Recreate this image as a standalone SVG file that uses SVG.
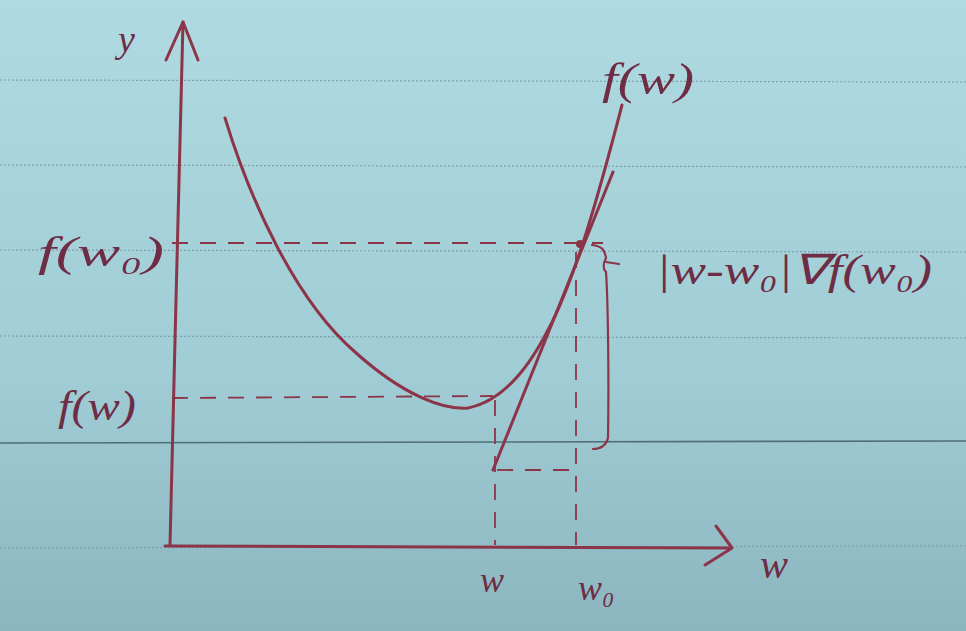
<svg xmlns="http://www.w3.org/2000/svg" width="966" height="631" viewBox="0 0 966 631">
<defs>
<linearGradient id="paper" x1="0" y1="0" x2="0" y2="1">
<stop offset="0" stop-color="#afdae1"/>
<stop offset="0.6" stop-color="#a0ccd5"/>
<stop offset="1" stop-color="#8cb6bf"/>
</linearGradient>
<style>
.rule{stroke:#7f9fa8;stroke-width:1.2;stroke-dasharray:2 2;fill:none}
.ruleSolid{stroke:#4f6f78;stroke-width:1.6;fill:none}
.ink{stroke:#8c3549;stroke-width:3;fill:none;stroke-linecap:round;stroke-linejoin:round}
.thin{stroke:#8c3549;stroke-width:2.2;fill:none;stroke-linecap:round}
.dash{stroke:#8c3549;stroke-width:1.8;fill:none;stroke-dasharray:16 12}
.lbl{font-family:"Liberation Serif",serif;font-style:italic;fill:#6e2c45}
</style>
</defs>
<rect width="966" height="631" fill="url(#paper)"/>
<g id="rules">
<line class="rule" x1="0" y1="80" x2="966" y2="82"/>
<line class="rule" x1="0" y1="165" x2="966" y2="167"/>
<line class="rule" x1="0" y1="250" x2="966" y2="252"/>
<line class="rule" x1="0" y1="336" x2="966" y2="338"/>
<line class="ruleSolid" x1="0" y1="443" x2="966" y2="441"/>
<line class="rule" x1="0" y1="548" x2="966" y2="546"/>
</g>
<g id="connectors">
<path class="dash" d="M172 243 L603 243"/>
<path class="dash" d="M172 398 L493 396"/>
<path class="dash" d="M495 400 L495 545"/>
<path class="dash" d="M576 252 L576 545"/>
<path class="dash" d="M497 470 L576 470"/>
</g>
<g id="y-axis">
<path class="ink" d="M170 545 L176 300 L183 22"/>
<path class="ink" d="M166 60 L183 22 L198 60"/>
<text class="lbl" x="118" y="52" font-size="38">y</text>
</g>
<g id="x-axis">
<path class="ink" d="M165 546 L730 548"/>
<path class="ink" d="M716 526 L732 548 L705 565"/>
<text class="lbl" x="760" y="578" font-size="42">w</text>
</g>
<g id="curve">
<path class="ink" d="M225 118 C250 200 295 300 355 352 C405 397 445 410 468 408 C498 402 525 375 548 330 C575 280 600 190 622 105"/>
<text class="lbl" x="602" y="94" font-size="44" textLength="92" lengthAdjust="spacingAndGlyphs">f(w)</text>
</g>
<g id="tangent">
<path class="ink" d="M493 470 L613 172"/>
<circle cx="580" cy="244" r="4" fill="#8c3549"/>
</g>
<g id="brace">
<path class="thin" d="M592 245 C602 246 605 250 606 258 C604 262 602 268 606 272 C608 300 609 380 608 438 C606 446 600 449 593 449"/>
<path class="thin" d="M606 262 L619 264"/>
</g>
<g id="labels">
<text class="lbl" x="38" y="266" font-size="42" textLength="126" lengthAdjust="spacingAndGlyphs">f(w₀)</text>
<text class="lbl" x="58" y="420" font-size="42" textLength="78" lengthAdjust="spacingAndGlyphs">f(w)</text>
<text class="lbl" x="656" y="284" font-size="42" textLength="276" lengthAdjust="spacingAndGlyphs">|w-w₀|∇f(w₀)</text>
<text class="lbl" x="480" y="592" font-size="36">w</text>
<text class="lbl" x="578" y="600" font-size="36">w₀</text>
</g>
</svg>
